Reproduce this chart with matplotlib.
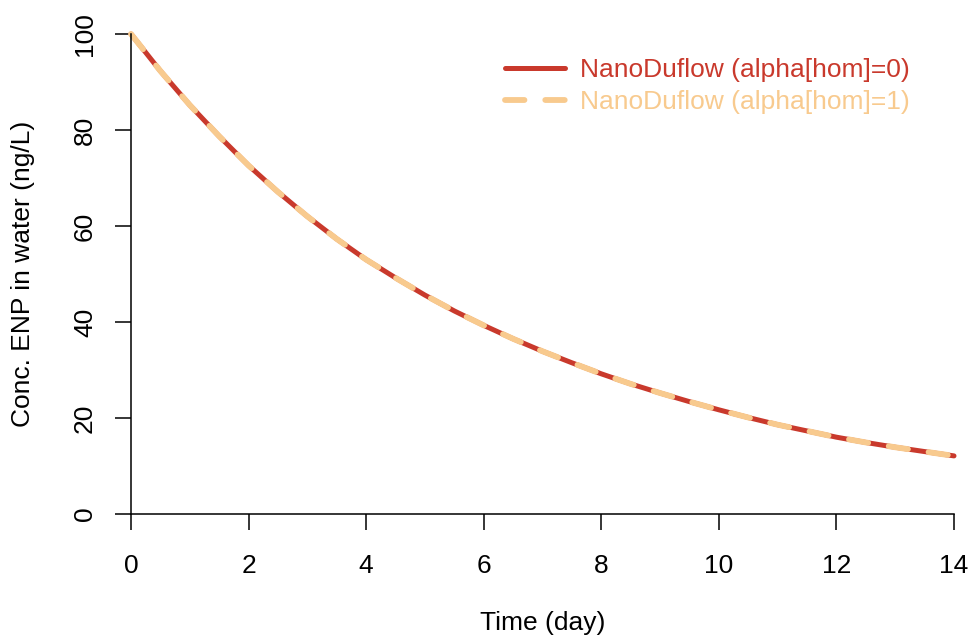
import matplotlib
matplotlib.use('Agg')
import matplotlib.pyplot as plt

# concentration, every half day
days = [0, 0.5, 1, 1.5, 2, 2.5, 3, 3.5, 4, 4.5, 5, 5.5, 6, 6.5, 7,
        7.5, 8, 8.5, 9, 9.5, 10, 10.5, 11, 11.5, 12, 12.5, 13, 13.5, 14]
conc_hom0 = [100, 92.3, 85.2, 78.7, 72.6, 67.1, 62.0, 57.3, 53.0, 49.2, 45.6, 42.3, 39.3, 36.5, 33.9,
             31.5, 29.2, 27.1, 25.2, 23.4, 21.7, 20.1, 18.6, 17.3, 16.0, 14.9, 13.9, 13.0, 12.1]
conc_hom1 = [100, 92.3, 85.2, 78.7, 72.6, 67.1, 62.0, 57.3, 53.0, 49.2, 45.6, 42.3, 39.3, 36.5, 33.9,
             31.5, 29.2, 27.1, 25.2, 23.4, 21.7, 20.1, 18.6, 17.3, 16.0, 14.9, 13.9, 13.0, 12.1]
labels = ['NanoDuflow (alpha[hom]=0)', 'NanoDuflow (alpha[hom]=1)']
xticks = [0, 2, 4, 6, 8, 10, 12, 14]
yticks = [0, 20, 40, 60, 80, 100]

red = '#C9392C'
orange = '#F8CA8E'

plt.rcParams['font.family'] = ['Liberation Sans', 'DejaVu Sans']
plt.rcParams['lines.scale_dashes'] = False

fig = plt.figure(figsize=(9.71, 6.38), dpi=100)
ax = fig.add_axes([0.1349, 0.1944, 0.8476, 0.7523])

ax.plot(days, conc_hom0, color=red, lw=3.6, solid_capstyle='round',
        clip_on=False, label=labels[0])
ax.plot(days, conc_hom1, color=orange, lw=4.2, dashes=(14, 15),
        dash_capstyle='round', clip_on=False, label=labels[1])

ax.set_xlim(0, 14)
ax.set_ylim(0, 100)
ax.set_xticks(xticks)
ax.set_yticks(yticks)
ax.spines['top'].set_visible(False)
ax.spines['right'].set_visible(False)
for s in ['left', 'bottom']:
    ax.spines[s].set_linewidth(1.1)
ax.tick_params(direction='out', length=11.5, width=1.1, labelsize=19)
ax.tick_params(axis='x', pad=17)
ax.tick_params(axis='y', pad=13)
for t in ax.get_yticklabels():
    t.set_rotation(90)
    t.set_va('center')

ax.set_xlabel('Time (day)', fontsize=19, labelpad=24)
ax.set_ylabel('Conc. ENP in water (ng/L)', fontsize=19, labelpad=27)

leg = ax.legend(loc='upper left', bbox_to_anchor=(505 / 971, 1 - 58 / 638),
                bbox_transform=fig.transFigure, frameon=False, fontsize=19,
                handlelength=2.27, handletextpad=0.57, labelspacing=0.3,
                borderpad=0, borderaxespad=0, labelcolor='linecolor')

fig.savefig('out.png', dpi=100)
